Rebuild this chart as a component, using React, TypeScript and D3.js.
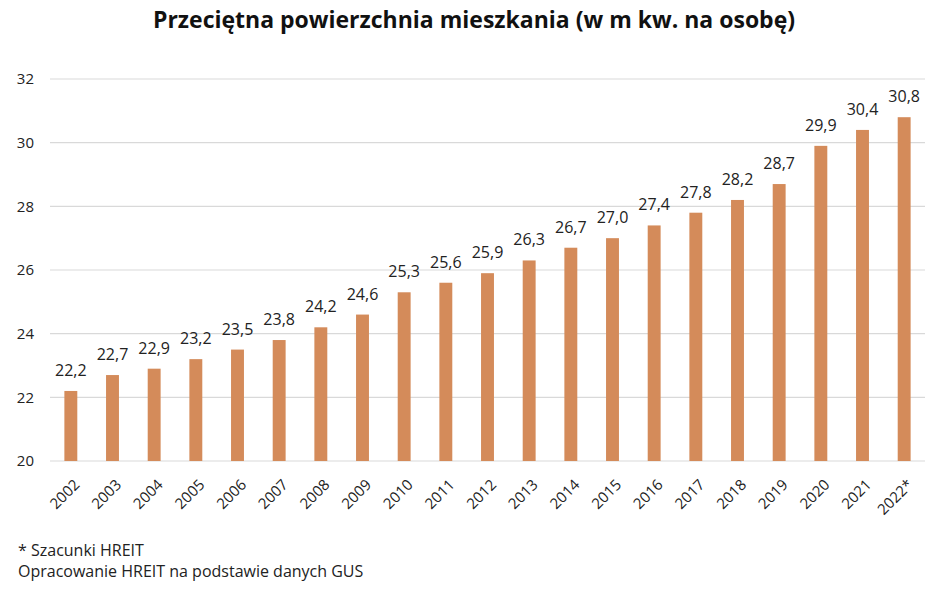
import React from "react";
import * as d3 from "d3";

const years = ["2002","2003","2004","2005","2006","2007","2008","2009","2010","2011","2012","2013","2014","2015","2016","2017","2018","2019","2020","2021","2022*"];
const values = [22.2,22.7,22.9,23.2,23.5,23.8,24.2,24.6,25.3,25.6,25.9,26.3,26.7,27.0,27.4,27.8,28.2,28.7,29.9,30.4,30.8];
const yTicks = [20,22,24,26,28,30,32];
const title = "Przeciętna powierzchnia mieszkania (w m kw. na osobę)";
const notes = ["* Szacunki HREIT", "Opracowanie HREIT na podstawie danych GUS"];

const W = 948, H = 592;
const FONT = "'Open Sans', sans-serif";

export default function App() {
  const x = d3.scaleBand<string>().domain(years).range([50, 925]).paddingInner(0.69).paddingOuter(0.345);
  const y = d3.scaleLinear().domain([20, 32]).range([461, 79]);
  const fmt = (v: number) => v.toFixed(1).replace(".", ",");
  return (
    <svg width={W} height={H} style={{ position: "absolute", left: 0, top: 0, background: "#fff" }} fontFamily={FONT}>
      <text x={474} y={28} textAnchor="middle" fontSize={23} fontWeight="bold" fill="#111">{title}</text>
      {yTicks.map(t => (
        <g key={t}>
          <line x1={50} x2={925} y1={y(t)} y2={y(t)} stroke="#d9d9d9" strokeWidth={1.2} />
          <text x={34} y={y(t)} dy="0.35em" textAnchor="end" fontSize={15} fill="#222">{t}</text>
        </g>
      ))}
      {years.map((yr, i) => {
        const cx = (x(yr) as number) + x.bandwidth() / 2;
        return (
          <g key={yr}>
            <rect x={x(yr)} y={y(values[i])} width={x.bandwidth()} height={y(20) - y(values[i])} fill="#d48b5a" />
            <text x={cx} y={y(values[i]) - 15} textAnchor="middle" fontSize={16} fill="#222">{fmt(values[i])}</text>
            <text transform={`translate(${cx + 6},${482}) rotate(-45)`} textAnchor="end" dy="0.35em" fontSize={15} fill="#222">{yr}</text>
          </g>
        );
      })}
      {notes.map((n, i) => (
        <text key={i} x={18} y={556 + i * 21} fontSize={16} fill="#222">{n}</text>
      ))}
    </svg>
  );
}
